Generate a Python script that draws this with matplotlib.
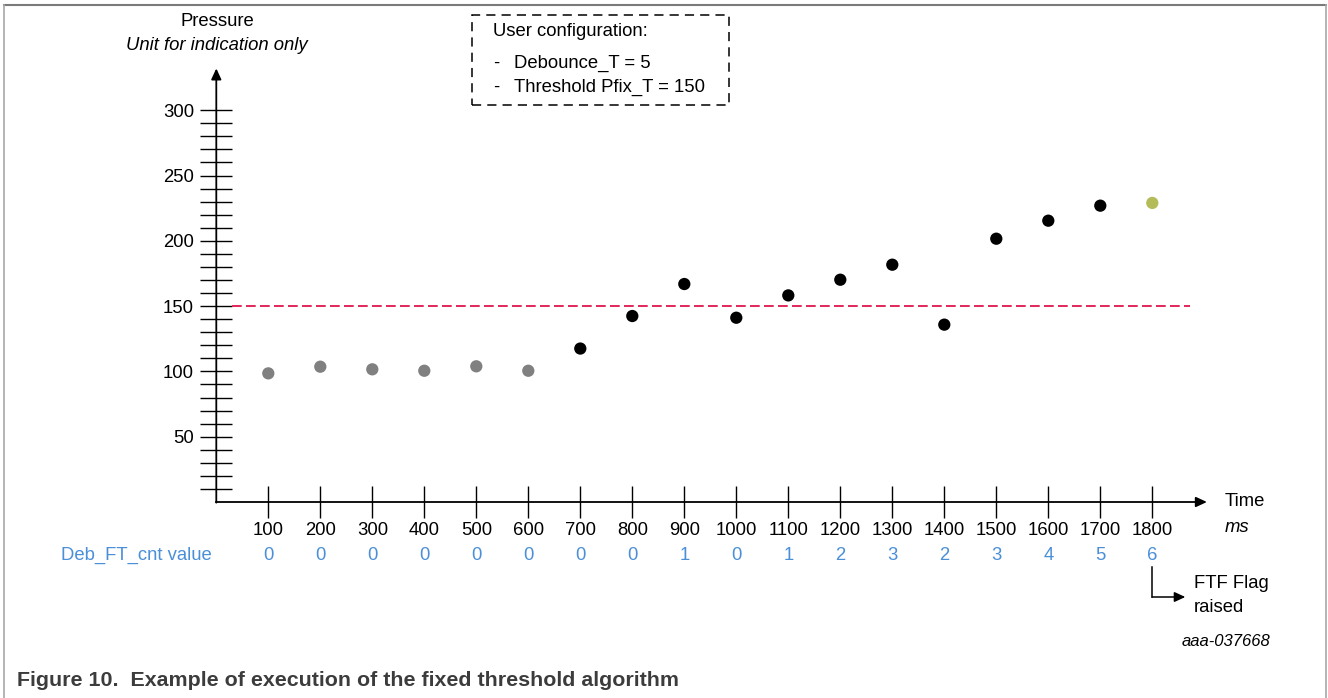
import numpy as np
import matplotlib.pyplot as plt
from matplotlib.patches import Rectangle
from matplotlib.lines import Line2D

plt.rcParams['font.family'] = ['Liberation Sans', 'DejaVu Sans']

# data
times = [100, 200, 300, 400, 500, 600, 700, 800, 900, 1000,
         1100, 1200, 1300, 1400, 1500, 1600, 1700, 1800]
pressure = [98.5, 103.6, 101.6, 100.5, 103.9, 100.5, 117.5, 142.4, 166.9, 141.1,
            158.2, 170.2, 181.7, 135.8, 201.6, 215.4, 226.9, 229.0]
deb_cnt = [0, 0, 0, 0, 0, 0, 0, 0, 1, 0, 1, 2, 3, 2, 3, 4, 5, 6]
point_kind = ['below'] * 6 + ['active'] * 11 + ['flag']
threshold = 150
y_major = [50, 100, 150, 200, 250, 300]
y_minor = list(range(10, 301, 10))

W, H = 1328, 698
DPI = 100
kind_colors = {'below': '#808080', 'active': '#000000', 'flag': '#b4bc5a'}
blue = '#4a8fd8'
fs = 13.3


def fx(px):
    return px / W


def fy(py):
    return 1 - py / H


fig = plt.figure(figsize=(W / DPI, H / DPI), dpi=DPI)

# axes placed so that x=0 sits at the y axis and y=0 at the x axis
x_org, y_org = 216.3, 502.0
px_per_x, px_per_y = 0.52, 1.306
xmax, ymax = 1905, 332
ax = fig.add_axes([fx(x_org), fy(y_org),
                   xmax * px_per_x / W, ymax * px_per_y / H])
ax.set_xlim(0, xmax)
ax.set_ylim(0, ymax)
for s in ax.spines.values():
    s.set_visible(False)
ax.patch.set_alpha(0)

# axis lines with arrows
arrow_kw = dict(arrowstyle='-|>,head_length=0.65,head_width=0.3', color='black', lw=1.3,
                mutation_scale=10, shrinkA=0, shrinkB=0)
ax.annotate('', xy=(0, ymax), xytext=(0, -0.5), annotation_clip=False,
            arrowprops=arrow_kw)
ax.annotate('', xy=(xmax, 0), xytext=(-1, 0), annotation_clip=False,
            arrowprops=arrow_kw)

tick_len = 32 * 72 / DPI
ax.set_yticks(y_major)
ax.set_yticks([v for v in y_minor if v not in y_major], minor=True)
ax.set_xticks(times)
ax.set_xticklabels([str(t) for t in times])
ax.tick_params(axis='both', which='both', direction='inout', length=tick_len,
               width=1.0, color='black', labelsize=fs)
ax.tick_params(axis='y', which='major', pad=4.5)
ax.tick_params(axis='x', which='major', pad=3)

# threshold line
ax.plot([16 / px_per_x, 1190 / px_per_x - x_org / px_per_x], [threshold, threshold],
        color='#e3265a', lw=1.4, dashes=(5, 2.2), clip_on=False)

# pressure samples
cols = [kind_colors[k] for k in point_kind]
ax.scatter(times, pressure, s=78, c=cols, edgecolors='none', zorder=3, clip_on=False)

# debounce counter row
cnt_y = (y_org - 553) / px_per_y
for t, c in zip(times, deb_cnt):
    ax.text(t, cnt_y, str(c), color=blue, fontsize=fs, ha='center', va='center_baseline')
fig.text(fx(212), fy(553), 'Deb_FT_cnt value', color=blue, fontsize=fs,
         ha='right', va='center_baseline')

# axis titles
fig.text(fx(217), fy(22), 'Pressure', fontsize=fs, ha='center', va='center')
fig.text(fx(217), fy(45), 'Unit for indication only', fontsize=fs,
         style='italic', ha='center', va='center')
fig.text(fx(1225), fy(502), 'Time', fontsize=fs, ha='left', va='center')
fig.text(fx(1225), fy(528), 'ms', fontsize=fs, style='italic', ha='left', va='center')

# config box
fig.patches.append(Rectangle((fx(472), fy(105)), fx(729) - fx(472), fy(15) - fy(105),
                             transform=fig.transFigure, fill=False, lw=1.1,
                             ls=(0, (6, 4)), ec='black'))
fig.text(fx(493), fy(32), 'User configuration:', fontsize=fs, va='center')
fig.text(fx(493), fy(63), '-', fontsize=fs, va='center')
fig.text(fx(514), fy(63), 'Debounce_T = 5', fontsize=fs, va='center')
fig.text(fx(493), fy(87), '-', fontsize=fs, va='center')
fig.text(fx(514), fy(87), 'Threshold Pfix_T = 150', fontsize=fs, va='center')

# flag arrow
flag_t = times[-1]
ax.plot([flag_t, flag_t], [(y_org - 567) / px_per_y, (y_org - 597) / px_per_y],
        color='black', lw=1.1, clip_on=False)
ax.annotate('', xy=(flag_t + 33 / px_per_x, (y_org - 597) / px_per_y),
            xytext=(flag_t - 0.5, (y_org - 597) / px_per_y), annotation_clip=False,
            arrowprops=dict(arrowstyle='-|>,head_length=0.65,head_width=0.3',
                            color='black', lw=1.1,
                            mutation_scale=10, shrinkA=0, shrinkB=0))
fig.text(fx(1194), fy(584), 'FTF Flag', fontsize=fs, va='center')
fig.text(fx(1194), fy(608), 'raised', fontsize=fs, va='center')
fig.text(fx(1270), fy(642), 'aaa-037668', fontsize=12, style='italic',
         ha='right', va='center')

# caption and frame
fig.text(fx(17), fy(681), 'Figure 10.  Example of execution of the fixed threshold algorithm',
         fontsize=15.4, fontweight='bold', color='#3c3c3c', va='center')
fig.lines.append(Line2D([fx(4), fx(1326)], [fy(5), fy(5)], transform=fig.transFigure,
                        color='#7a7a7a', lw=1.5))
fig.lines.append(Line2D([fx(4), fx(4)], [fy(5), 0], transform=fig.transFigure,
                        color='#a8a8a8', lw=1.2))
fig.lines.append(Line2D([fx(1326), fx(1326)], [fy(5), 0], transform=fig.transFigure,
                        color='#a8a8a8', lw=1.2))

fig.savefig('out.png', dpi=DPI)
